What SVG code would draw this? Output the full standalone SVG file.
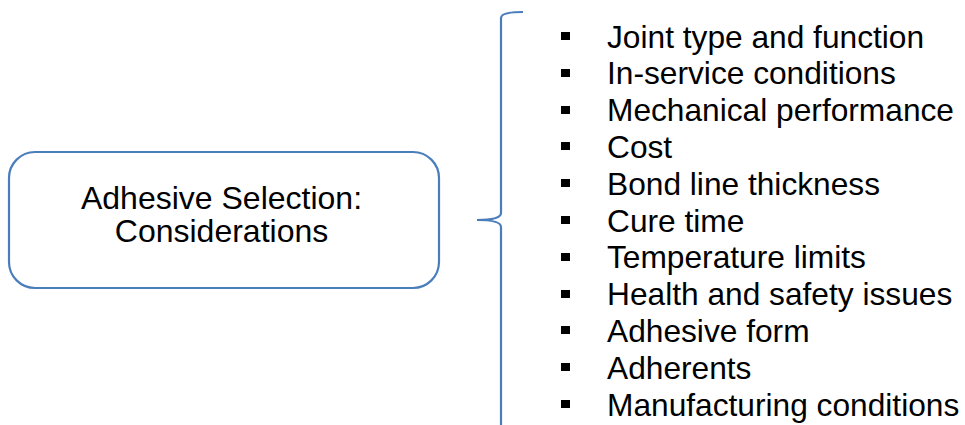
<svg xmlns="http://www.w3.org/2000/svg" width="965" height="425" viewBox="0 0 965 425">
<style>
.t{font-family:"Liberation Sans",Arial,sans-serif;font-size:31.7px;fill:#000}
.c{font-size:32px}
.b{fill:#000}
.ln{fill:none;stroke:#4a7ebb;stroke-width:2.2}
</style>
<rect width="965" height="425" fill="#fff"/>
<g id="main">
<rect class="ln" x="9" y="152" width="430" height="136" rx="26"/>
<text class="t c" x="221.5" y="209" text-anchor="middle">Adhesive Selection:</text>
<text class="t c" x="221.5" y="242" text-anchor="middle">Considerations</text>
</g>
<g id="connectors">
<path class="ln" d="M523,12 Q501,12 501,18 L501,213 Q501,220 477,220 Q501,220 501,227 L501,426"/>
</g>
<g id="list">
<rect class="b" x="561" y="32" width="9" height="8"/>
<rect class="b" x="561" y="69" width="9" height="8"/>
<rect class="b" x="561" y="106" width="9" height="8"/>
<rect class="b" x="561" y="142" width="9" height="8"/>
<rect class="b" x="561" y="179" width="9" height="8"/>
<rect class="b" x="561" y="216" width="9" height="8"/>
<rect class="b" x="561" y="253" width="9" height="8"/>
<rect class="b" x="561" y="290" width="9" height="8"/>
<rect class="b" x="561" y="326" width="9" height="8"/>
<rect class="b" x="561" y="363" width="9" height="8"/>
<rect class="b" x="561" y="400" width="9" height="8"/>
<text class="t" x="607" y="47.5">Joint type and function</text>
<text class="t" x="607" y="84.3">In-service conditions</text>
<text class="t" x="607" y="121.1">Mechanical performance</text>
<text class="t" x="607" y="157.9">Cost</text>
<text class="t" x="607" y="194.7">Bond line thickness</text>
<text class="t" x="607" y="231.5">Cure time</text>
<text class="t" x="607" y="268.3">Temperature limits</text>
<text class="t" x="607" y="305.1">Health and safety issues</text>
<text class="t" x="607" y="341.9">Adhesive form</text>
<text class="t" x="607" y="378.7">Adherents</text>
<text class="t" x="607" y="415.5">Manufacturing conditions</text>
</g>
</svg>
